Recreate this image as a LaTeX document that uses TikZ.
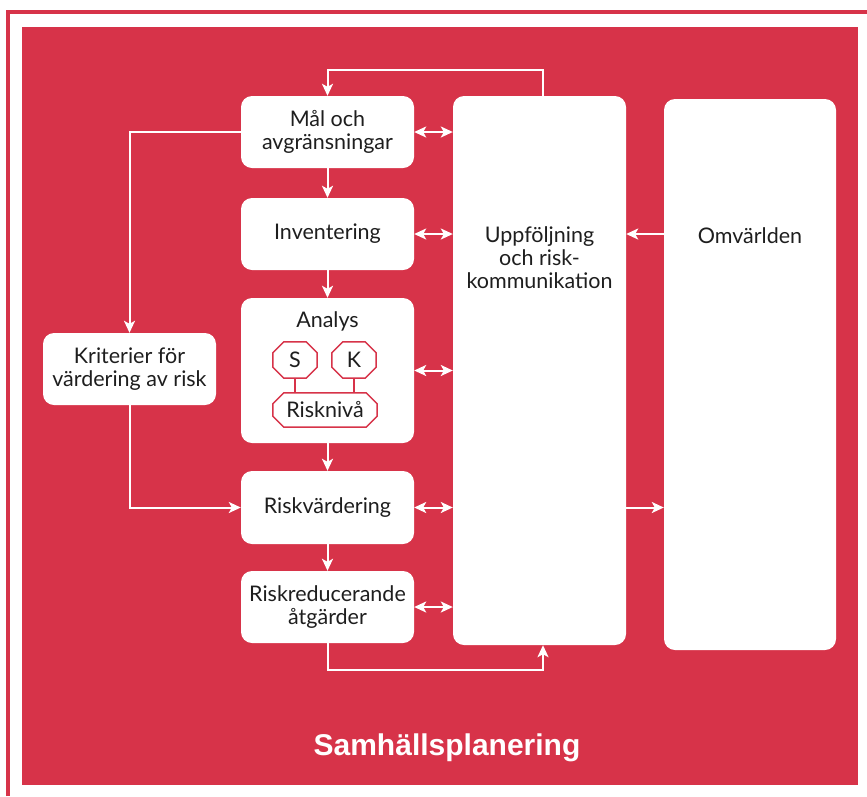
\documentclass[tikz,border=0pt]{standalone}
\usepackage{fontspec}
\setmainfont{Lato}
\newfontfamily\titlefont{Liberation Sans}
\usetikzlibrary{arrows.meta,calc}
\definecolor{bg}{HTML}{D73349}
\definecolor{ink}{HTML}{1E1E1E}
\tikzset{
  box/.style={fill=white, rounded corners=11pt, text=ink, align=center,
    font=\fontsize{21.5}{23}\selectfont, inner sep=0pt, minimum width=173pt},
  txt/.style={text=ink, align=center, font=\fontsize{21.5}{23}\selectfont, inner sep=0pt},
  wire/.style={draw=white, line width=2pt},
  arr/.style={wire, -{Stealth[length=12pt,width=11pt,inset=3pt]}},
  darr/.style={wire, {Stealth[length=12pt,width=11pt,inset=3pt]}-{Stealth[length=12pt,width=11pt,inset=3pt]}},
  octo/.style={draw=bg, line width=1.5pt},
  octnode/.style={text=ink, font=\fontsize{21.5}{23}\selectfont, inner sep=0pt},
}
\newcommand\octpath[2]{%
  \draw[octo] ([xshift=#2]#1.north west) -- ([xshift=-#2]#1.north east) -- ([yshift=-#2]#1.north east)
    -- ([yshift=#2]#1.south east) -- ([xshift=-#2]#1.south east) -- ([xshift=#2]#1.south west)
    -- ([yshift=#2]#1.south west) -- ([yshift=-#2]#1.north west) -- cycle;}
\begin{document}
\begin{tikzpicture}[x=1pt,y=-1pt]
\useasboundingbox (0,0) rectangle (867,796);
\fill[white] (0,0) rectangle (867,796);
\draw[bg, line width=4pt] (8,796) -- (8,12) -- (867,12);
\fill[bg] (22,27) rectangle (858,785);

% boxes
\node[box, minimum height=72pt] (mal) at (327.5,132) {Mål och\\avgränsningar};
\node[box, minimum height=72pt] (inv) at (327.5,234) {Inventering};
\node[box, minimum height=145pt] (ana) at (327.5,370.5) {};
\node[box, minimum height=73pt] (risk) at (327.5,507.5) {Riskvärdering};
\node[box, minimum height=72pt] (red) at (327.5,607) {Riskreducerande\\åtgärder};
\node[box, minimum height=72pt] (krit) at (129.5,369) {Kriterier för\\värdering av risk};
\node[box, minimum height=549pt] (upp) at (539.5,370.5) {};
\node[box, minimum height=551pt, minimum width=172pt] (omv) at (750,374.5) {};

\node[txt] (upptxt) at (539.5,258) {Uppföljning\\och risk-\\kommunikation};
\node[txt] (omvtxt) at (750,236) {Omvärlden};
\node[txt] (anatxt) at (327.5,321) {Analys};

% octagons in Analys
\node[octnode, minimum width=44pt, minimum height=36pt] (S) at (295,360) {S};
\node[octnode, minimum width=44pt, minimum height=36pt] (K) at (354,360) {K};
\node[octnode, minimum width=104pt, minimum height=34pt] (R) at (325,410) {Risknivå};
\octpath{S}{11pt}
\octpath{K}{11pt}
\octpath{R}{11pt}
\draw[octo] (S.south) -- (S.south |- R.north);
\draw[octo] (K.south) -- (K.south |- R.north);

% coordinates
\coordinate (t1) at (543,70);
\coordinate (t2) at (327.5,70);
\coordinate (b1) at (543,670);

% connectors
\draw[arr] (upp.north -| t1) -- (t1) -- (t2) -- (mal.north);
\draw[arr] (mal.south) -- (inv.north);
\draw[arr] (inv.south) -- (ana.north);
\draw[arr] (ana.south) -- (risk.north);
\draw[arr] (risk.south) -- (red.north);
\draw[arr] (mal.west) -| (krit.north);
\draw[arr] (krit.south) |- (risk.west);
\draw[arr] (red.south) |- (b1) -- (upp.south -| b1);

\draw[darr] (mal.east) -- (mal.east -| upp.west);
\draw[darr] (inv.east) -- (inv.east -| upp.west);
\draw[darr] (ana.east) -- (ana.east -| upp.west);
\draw[darr] (risk.east) -- (risk.east -| upp.west);
\draw[darr] (red.east) -- (red.east -| upp.west);

\draw[arr] (omv.west |- inv) -- (upp.east |- inv);
\draw[arr] (upp.east |- risk) -- (omv.west |- risk);

% title
\node[text=white, font=\titlefont\bfseries\fontsize{30}{30}\selectfont, anchor=base, inner sep=0pt] (title) at (447,755) {Samhällsplanering};
\end{tikzpicture}
\end{document}
